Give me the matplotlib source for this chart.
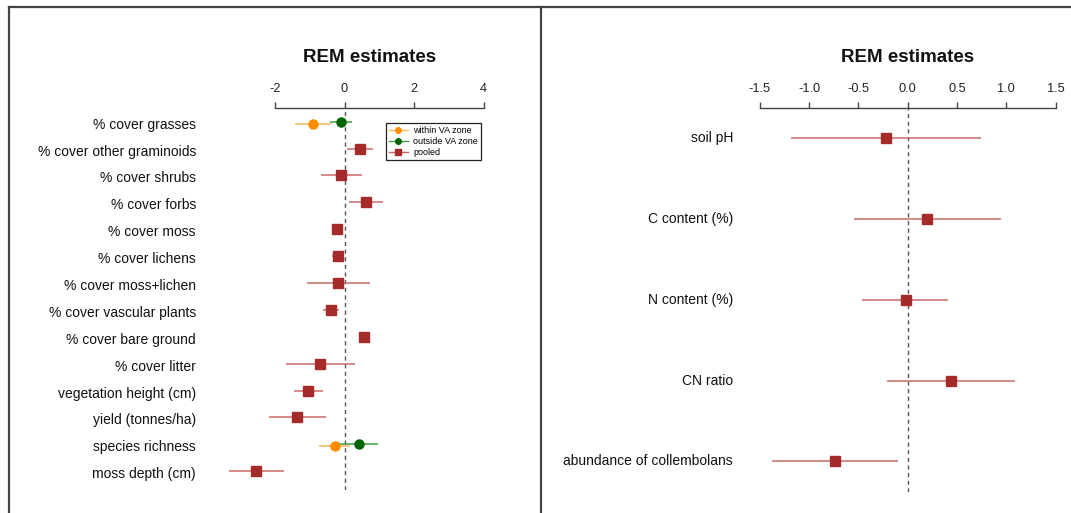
import numpy as np
import matplotlib
matplotlib.use("Agg")
import matplotlib.pyplot as plt
from matplotlib.lines import Line2D
from matplotlib import transforms

plt.rcParams['font.family'] = ['Liberation Sans', 'DejaVu Sans']

# ---------------- data ----------------
left_labels = ["% cover grasses", "% cover other graminoids", "% cover shrubs", "% cover forbs",
               "% cover moss", "% cover lichens", "% cover moss+lichen", "% cover vascular plants",
               "% cover bare ground", "% cover litter", "vegetation height (cm)", "yield (tonnes/ha)",
               "species richness", "moss depth (cm)"]
pooled_est = [np.nan, 0.45, -0.09, 0.62, -0.21, -0.20, -0.18, -0.40, 0.57, -0.70, -1.05, -1.36, np.nan, -2.53]
pooled_lo = [np.nan, 0.08, -0.68, 0.13, -0.34, -0.37, -1.08, -0.63, 0.45, -1.68, -1.45, -2.16, np.nan, -3.32]
pooled_hi = [np.nan, 0.83, 0.50, 1.11, -0.06, -0.01, 0.73, -0.17, 0.71, 0.29, -0.63, -0.54, np.nan, -1.75]

split_labels = ["% cover grasses", "species richness"]
within_est = [-0.90, -0.28]
within_lo = [-1.42, -0.72]
within_hi = [-0.39, 0.17]
outside_est = [-0.11, 0.41]
outside_lo = [-0.42, -0.15]
outside_hi = [0.21, 0.97]

left_ticks = [-2, 0, 2, 4]

right_labels = ["soil pH", "C content (%)", "N content (%)", "CN ratio", "abundance of collembolans"]
right_est = [-0.22, 0.20, -0.02, 0.44, -0.74]
right_lo = [-1.18, -0.54, -0.46, -0.21, -1.38]
right_hi = [0.74, 0.95, 0.41, 1.09, -0.10]
right_ticks = [-1.5, -1.0, -0.5, 0.0, 0.5, 1.0, 1.5]
right_ticklabels = ["-1.5", "-1.0", "-0.5", "0.0", "0.5", "1.0", "1.5"]

# ---------------- style ----------------
RED, RED_L = "#A52A2A", "#cc6a6a"
ORA, ORA_L = "#FF8C00", "#f3b860"
GRN, GRN_L = "#006400", "#3e9e3e"
W, H = 1071, 513

fig = plt.figure(figsize=(W / 100, H / 100), dpi=100)


def px_axes(x0, x1, y0, y1):
    return fig.add_axes([x0 / W, 1 - y1 / H, (x1 - x0) / W, (y1 - y0) / H])


def style_axes(ax, ticks, ticklabels):
    for s in ["left", "right", "bottom"]:
        ax.spines[s].set_visible(False)
    ax.spines["top"].set_color("#444444")
    ax.spines["top"].set_linewidth(1.0)
    ax.spines["top"].set_bounds(ticks[0], ticks[-1])
    ax.xaxis.set_ticks_position("top")
    ax.set_xticks(ticks)
    ax.set_xticklabels(ticklabels)
    ax.tick_params(axis="x", direction="out", length=4.5, width=1.0, color="#444444",
                   pad=4.8, labelsize=9.2, labelcolor="#222222")
    ax.set_yticks([])
    ax.axvline(0, color="#555555", lw=1.0, ls=(0, (3, 2.5)), zorder=1)


def ci(ax, y, est, lo, hi, col, lcol, marker, ms):
    ax.hlines(y, lo, hi, color=lcol, lw=1.1, zorder=2)
    ax.plot(est, y, ls="none", marker=marker, ms=ms, color=col, mec=col, zorder=3)


# ---------- left panel ----------
axL = px_axes(200, 530, 107.5, 490)
rowsL = np.arange(1, len(left_labels) + 1)
axL.set_xlim((200 - 344.5) / 34.8, (530 - 344.5) / 34.8)
axL.set_ylim(14.70, 0.475)
style_axes(axL, left_ticks, [str(t) for t in left_ticks])

for r, e, lo, hi in zip(rowsL, pooled_est, pooled_lo, pooled_hi):
    if not np.isnan(e):
        ci(axL, r, e, lo, hi, RED, RED_L, "s", 7.3)
for i, lab in enumerate(split_labels):
    r = left_labels.index(lab) + 1
    ci(axL, r + 0.08, within_est[i], within_lo[i], within_hi[i], ORA, ORA_L, "o", 6.5)
    ci(axL, r, outside_est[i], outside_lo[i], outside_hi[i], GRN, GRN_L, "o", 6.5)

offL = transforms.blended_transform_factory(fig.transFigure, axL.transData) + \
    transforms.ScaledTranslation(0, -3 / 100, fig.dpi_scale_trans)
for r, lab in zip(rowsL, left_labels):
    axL.text(196 / W, r, lab, transform=offL, ha="right", va="center", fontsize=10, color="#111111")

handles = [Line2D([], [], color=ORA_L, lw=1.0, marker="o", ms=4, mfc=ORA, mec=ORA),
           Line2D([], [], color=GRN_L, lw=1.0, marker="o", ms=4, mfc=GRN, mec=GRN),
           Line2D([], [], color=RED_L, lw=1.0, marker="s", ms=4, mfc=RED, mec=RED)]
leg = axL.legend(handles, ["within VA zone", "outside VA zone", "pooled"],
                 loc="upper left", bbox_to_anchor=(385.5 / W, 1 - 123.3 / H),
                 bbox_transform=fig.transFigure, fontsize=6.5, frameon=True, fancybox=False,
                 edgecolor="#222222", framealpha=1, borderaxespad=0, borderpad=0.35,
                 labelspacing=0.2, handlelength=2.1, handletextpad=0.6)
leg.get_frame().set_linewidth(0.9)

fig.text(370 / W, 1 - 58 / H, "REM estimates", ha="center", va="center",
         fontsize=13.5, fontweight="bold", color="#111111")

# ---------- right panel ----------
axR = px_axes(740, 1068, 107.5, 492)
rowsR = np.arange(1, len(right_labels) + 1)
axR.set_xlim((740 - 907.7) / 98.6, (1068 - 907.7) / 98.6)
axR.set_ylim(5.377, 0.625)
style_axes(axR, right_ticks, right_ticklabels)
for r, e, lo, hi in zip(rowsR, right_est, right_lo, right_hi):
    ci(axR, r, e, lo, hi, RED, RED_L, "s", 7.0)
trR = transforms.blended_transform_factory(fig.transFigure, axR.transData)
for r, lab in zip(rowsR, right_labels):
    axR.text(733 / W, r, lab, transform=trR, ha="right", va="center", fontsize=10, color="#111111")

fig.text(908 / W, 1 - 58 / H, "REM estimates", ha="center", va="center",
         fontsize=13.5, fontweight="bold", color="#111111")

# ---------- panel borders ----------
bc = "#444444"
fig.add_artist(Line2D([8.7 / W, 1], [1 - 6.7 / H, 1 - 6.7 / H], transform=fig.transFigure, color=bc, lw=1.6))
fig.add_artist(Line2D([8.7 / W, 8.7 / W], [0, 1 - 6.7 / H], transform=fig.transFigure, color=bc, lw=1.6))
fig.add_artist(Line2D([541 / W, 541 / W], [0, 1 - 6.7 / H], transform=fig.transFigure, color=bc, lw=1.6))

fig.savefig("out.png", dpi=100)
